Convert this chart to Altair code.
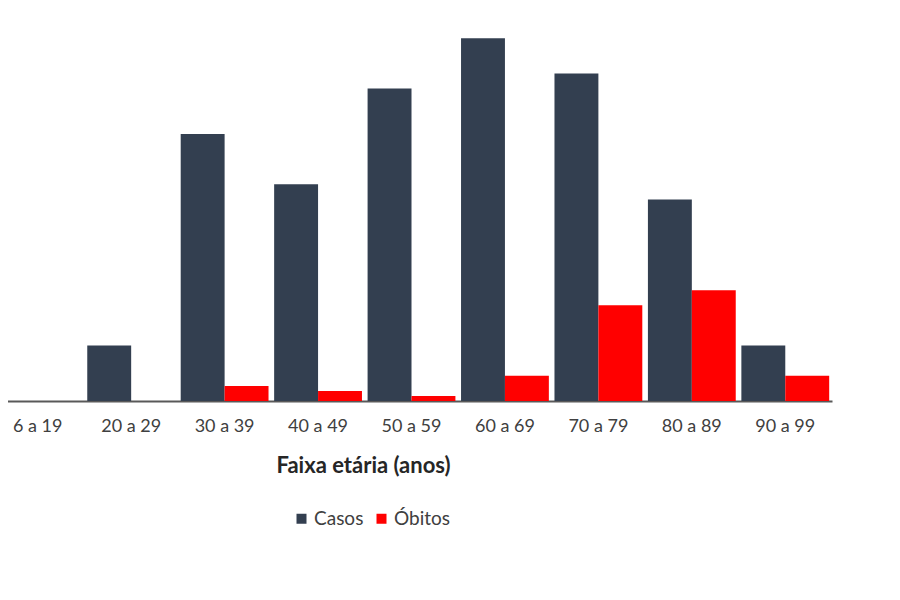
import altair as alt
import pandas as pd

categorias = ["6 a 19", "20 a 29", "30 a 39", "40 a 49", "50 a 59",
              "60 a 69", "70 a 79", "80 a 89", "90 a 99"]
casos = [0, 11, 53, 43, 62, 72, 65, 40, 11]
obitos = [0, 0, 3, 2, 1, 5, 19, 22, 5]
series = ["Casos", "Óbitos"]
cores = ["#333f50", "#ff0000"]

rows = []
for c, v1, v2 in zip(categorias, casos, obitos):
    rows.append({"Faixa": c, "Serie": series[0], "Valor": v1})
    rows.append({"Faixa": c, "Serie": series[1], "Valor": v2})
df = pd.DataFrame(rows)

FONT = "Lato"

chart = alt.Chart(df).mark_bar().encode(
    x=alt.X("Faixa:N", sort=categorias,
            scale=alt.Scale(range=[-17, 824], paddingInner=0, paddingOuter=0),
            axis=alt.Axis(title="Faixa etária (anos)", labelAngle=0,
                          ticks=False, tickSize=0, labelPadding=16,
                          labelFont=FONT, labelFontSize=18, labelColor="#404040",
                          domainColor="#595959", domainWidth=2,
                          titleFont=FONT, titleFontSize=22, titleFontWeight="bold",
                          titleColor="#262626", titleX=355, titleY=64,
                          titleAlign="center", titleBaseline="middle",
                          grid=False)),
    xOffset=alt.XOffset("Serie:N", sort=series,
                        scale=alt.Scale(paddingInner=0, paddingOuter=0.064)),
    y=alt.Y("Valor:Q", scale=alt.Scale(domain=[0, 78], nice=False), axis=None),
    color=alt.Color("Serie:N", sort=series,
                    scale=alt.Scale(domain=series, range=cores),
                    legend=alt.Legend(title=None, orient="none", direction="horizontal",
                                      legendX=284, legendY=501,
                                      symbolType="square", symbolSize=100,
                                      symbolStrokeWidth=0,
                                      labelFont=FONT, labelFontSize=19,
                                      labelColor="#404040", columnPadding=8,
                                      labelOffset=3)),
).properties(
    width=826, height=393,
    background="white",
    autosize=alt.AutoSizeParams(type="none"),
    padding={"left": 0, "top": 0, "right": 0, "bottom": 180},
).configure_view(strokeWidth=0, stroke="transparent")

chart.save("out.html", embed_options={"renderer": "svg", "actions": False})
